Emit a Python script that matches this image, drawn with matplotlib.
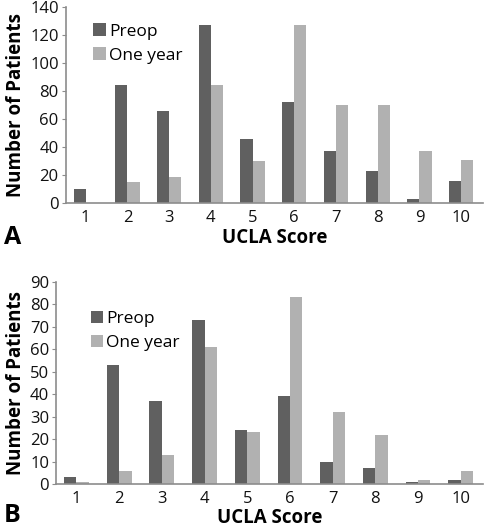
import numpy as np
import matplotlib.pyplot as plt

plt.rcParams['font.family'] = ['Open Sans', 'DejaVu Sans']

scores = np.arange(1, 11)
tick_labels = [str(s) for s in scores]

preop_a = [10, 84, 66, 127, 46, 72, 37, 23, 3, 16]
one_year_a = [0, 15, 19, 84, 30, 127, 70, 70, 37, 31]

preop_b = [3, 53, 37, 73, 24, 39, 10, 7, 1, 2]
one_year_b = [1, 6, 13, 61, 23, 83, 32, 22, 2, 6]

COR_PREOP = "#606060"
COR_ANO = "#b1b1b1"
COR_EIXO = "#8c8c8c"
width = 0.29

fig = plt.figure(figsize=(4.84, 5.30), dpi=100)
ax_a = fig.add_axes([0.1357, 0.6164, 0.862, 0.371])
ax_b = fig.add_axes([0.1157, 0.0868, 0.882, 0.3817])


def painel(ax, preop, one_year, ymax, ystep, leg_pos, letra, letra_y):
    ax.bar(scores - width / 2, preop, width=width, color=COR_PREOP, label="Preop")
    ax.bar(scores + width / 2, one_year, width=width, color=COR_ANO, label="One year")
    ax.set_xlim(0.52, 10.52)
    ax.set_ylim(0, ymax)
    ax.set_yticks(np.arange(0, ymax + 1, ystep))
    ax.set_xticks(scores)
    ax.set_xticklabels(tick_labels)
    ax.tick_params(axis="x", length=0, labelsize=12, pad=5, labelcolor="#111111")
    ax.tick_params(axis="y", length=3, color=COR_EIXO, labelsize=12, pad=2, labelcolor="#111111")
    for s in ["top", "right"]:
        ax.spines[s].set_visible(False)
    for s in ["left", "bottom"]:
        ax.spines[s].set_color(COR_EIXO)
        ax.spines[s].set_linewidth(1.2)
    ax.set_ylabel("Number of Patients", fontsize=13.5, fontweight="bold", labelpad=3)
    ax.set_xlabel("UCLA Score", fontsize=13.5, fontweight="bold", labelpad=1)
    ax.legend(loc="upper left", bbox_to_anchor=leg_pos, frameon=False, fontsize=12.5,
              handlelength=0.7, handleheight=0.7, handletextpad=0.2, labelspacing=0.45,
              borderaxespad=0)
    fig.text(0.008, letra_y, letra, fontsize=18, fontweight="bold", va="center")


painel(ax_a, preop_a, one_year_a, 140, 20, (0.05, 0.95), "A", 1 - 238 / 530)
painel(ax_b, preop_b, one_year_b, 90, 10, (0.065, 0.89), "B", 1 - 516 / 530)

fig.savefig("out.png", dpi=100)
